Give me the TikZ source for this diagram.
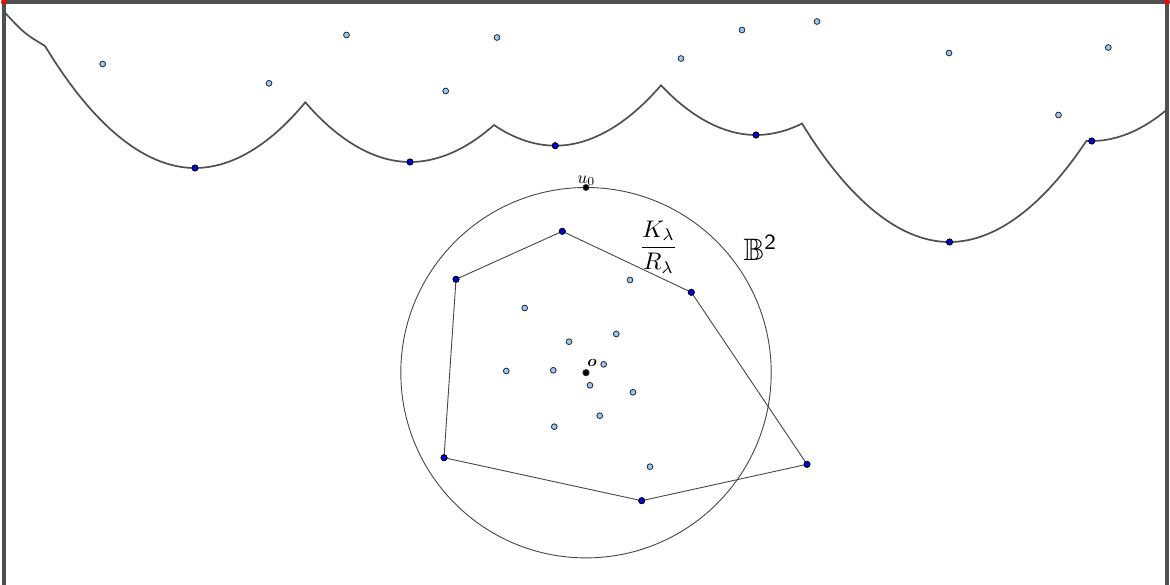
\documentclass[tikz,border=0pt]{standalone}
\usepackage{amsmath,amssymb,bm}
\definecolor{lbfill}{RGB}{150,200,250}
\definecolor{dbfill}{RGB}{0,0,230}
\definecolor{framegray}{RGB}{80,80,80}
\definecolor{curvegray}{RGB}{80,80,80}
\definecolor{thingray}{RGB}{70,70,70}
\tikzset{
  lb/.style={circle,draw=black!85,line width=0.8pt,fill=lbfill,inner sep=0pt,minimum size=5.8pt},
  db/.style={circle,draw=black,line width=0.8pt,fill=dbfill,inner sep=0pt,minimum size=6pt},
  bk/.style={circle,draw=black!80,line width=0.6pt,fill=black,inner sep=0pt,minimum size=6.2pt},
  rd/.style={circle,draw=black!70,line width=0.5pt,fill=red,inner sep=0pt,minimum size=5.6pt},
  framestyle/.style={draw=framegray,line width=3.2pt},
  curvestyle/.style={draw=curvegray,line width=1.7pt,line join=miter},
  thinstyle/.style={draw=thingray,line width=0.9pt},
  lab/.style={inner sep=0pt,text=black}
}
\begin{document}
\begin{tikzpicture}[x=1pt,y=-1pt]
\useasboundingbox (0,0) rectangle (1170,585);
% frame
\coordinate (fbl) at (4,585);
\coordinate (ftl) at (4,2);
\coordinate (ftr) at (1167,2);
\coordinate (fbr) at (1167,585);
\draw[framestyle] (fbl) -- (ftl) -- (ftr) -- (fbr);
% boundary curve
\coordinate (c0) at (4,11.7);
\coordinate (c1) at (45,46);
\coordinate (c2) at (305.3,102.3);
\coordinate (c3) at (494,125);
\coordinate (c4) at (661,85.3);
\coordinate (c5) at (802,123.5);
\coordinate (c6) at (1086.3,141);
\coordinate (c7) at (1167,109.5);
% dark points on curve
\node[db] (d1) at (195,168) {};
\node[db] (d2) at (410,162) {};
\node[db] (d3) at (555.3,145.7) {};
\node[db] (d4) at (756,135) {};
\node[db] (d5) at (949.5,242) {};
\node[db] (d6) at (1091.7,141) {};
\draw[curvestyle] (c0) .. controls (24.5,33.6) .. (c1)
  parabola bend (d1.center) (c2)
  parabola bend (d2.center) (c3)
  parabola bend (d3.center) (c4)
  parabola bend (d4.center) (c5)
  parabola bend (d5.center) (c6)
  -- (d6.center) parabola bend (d6.center) (c7);
\foreach \d in {d1,d2,d3,d4,d5,d6} \node[db] at (\d) {};
% light blue points above
\node[lb] (t1) at (102.7,64) {};
\node[lb] (t2) at (269,83.3) {};
\node[lb] (t3) at (346.5,35) {};
\node[lb] (t4) at (445.7,91) {};
\node[lb] (t5) at (497,37.5) {};
\node[lb] (t6) at (681,58.5) {};
\node[lb] (t7) at (742,30) {};
\node[lb] (t8) at (817,21.5) {};
\node[lb] (t9) at (949,53) {};
\node[lb] (t10) at (1108.3,47.5) {};
\node[lb] (t11) at (1058.5,115) {};
% disc
\node[bk] (o) at (586,372.7) {};
\draw[thinstyle] (o.center) circle (185.2);
% polygon
\node[db] (p1) at (562.3,231.3) {};
\node[db] (p2) at (691.3,292.3) {};
\node[db] (p3) at (807,464.3) {};
\node[db] (p4) at (641.7,500.7) {};
\node[db] (p5) at (444,457.7) {};
\node[db] (p6) at (456,279.3) {};
\draw[thinstyle] (p1.center) -- (p2.center) -- (p3.center) -- (p4.center) -- (p5.center) -- (p6.center) -- cycle;
\foreach \p in {p1,p2,p3,p4,p5,p6} \node[db] at (\p) {};
% interior light blue points
\node[lb] (i1) at (630,280) {};
\node[lb] (i2) at (524.7,308) {};
\node[lb] (i3) at (616.3,334) {};
\node[lb] (i4) at (569,341.7) {};
\node[lb] (i5) at (506.3,371) {};
\node[lb] (i6) at (553.3,370.3) {};
\node[lb] (i7) at (603.7,364.3) {};
\node[lb] (i8) at (590,385.3) {};
\node[lb] (i9) at (633,392.3) {};
\node[lb] (i10) at (599.7,415.7) {};
\node[lb] (i11) at (554.3,426.7) {};
\node[lb] (i12) at (650,466.7) {};
\node[bk] at (o) {};
\node[bk] (u0) at (586,187.5) {};
% corner red points
\node[rd] (r1) at (ftl) {};
\node[rd] (r2) at (ftr) {};
% labels
\node[lab,anchor=base west,scale=1.75] (u0lab) at (577,183.3) {$u_0$};
\node[lab,anchor=base west,scale=1.6] (olab) at (587,366) {$\bm{o}$};
\node[lab,anchor=base,scale=2.4] (klab) at (658.5,253.5) {$\dfrac{K_\lambda}{R_\lambda}$};
\node[lab,anchor=base west,scale=3.1] (blab) at (743,260.5) {$\mathbb{B}^{\mathsf{2}}$};
\end{tikzpicture}
\end{document}
